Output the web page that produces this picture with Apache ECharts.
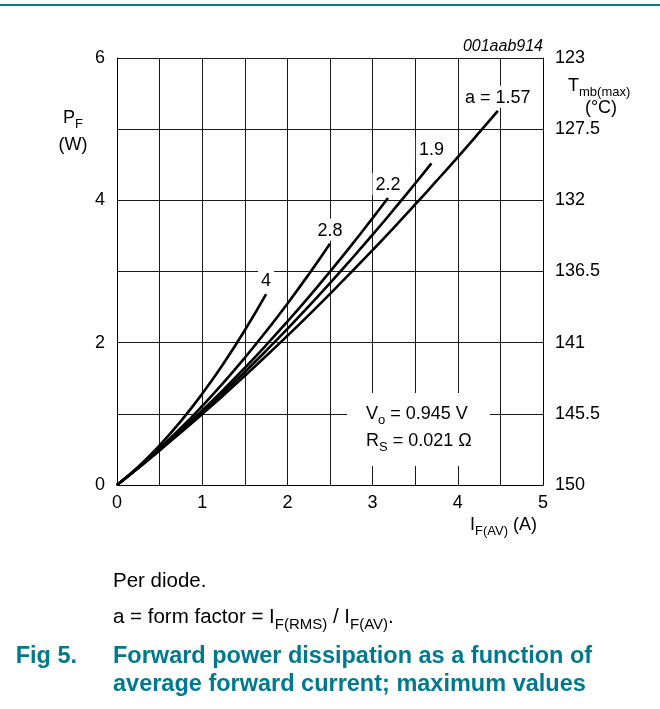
<!DOCTYPE html>
<html>
<head>
<meta charset="utf-8">
<script src="https://cdn.jsdelivr.net/npm/echarts@6/dist/echarts.min.js"></script>
<style>
html,body{margin:0;padding:0;background:#fff;}
#c{width:660px;height:709px;}
</style>
</head>
<body>
<div id="c"></div>
<script>
// ---- data ----
const curveNames = ['4', '2.8', '2.2', '1.9', 'a = 1.57'];
const curveA4 = [[0,0],[0.25,0.257],[0.5,0.557],[0.75,0.898],[1.0,1.281],[1.25,1.706],[1.5,2.174],[1.75,2.683]];
const curveA28 = [[0,0],[0.25,0.247],[0.5,0.514],[0.75,0.801],[1.0,1.110],[1.25,1.438],[1.5,1.788],[1.75,2.158],[2.0,2.548],[2.25,2.959],[2.5,3.391]];
const curveA22 = [[0,0],[0.25,0.243],[0.5,0.498],[0.75,0.766],[1.0,1.047],[1.25,1.340],[1.5,1.646],[1.75,1.965],[2.0,2.297],[2.25,2.641],[2.5,2.998],[2.75,3.367],[3.0,3.750],[3.18,4.033]];
const curveA19 = [[0,0],[0.25,0.241],[0.5,0.491],[0.75,0.751],[1.0,1.021],[1.25,1.300],[1.5,1.588],[1.75,1.886],[2.0,2.193],[2.25,2.510],[2.5,2.836],[2.75,3.172],[3.0,3.517],[3.25,3.872],[3.5,4.236],[3.69,4.519]];
const curveA157 = [[0,0],[0.25,0.239],[0.5,0.485],[0.75,0.738],[1.0,0.997],[1.25,1.262],[1.5,1.534],[1.75,1.812],[2.0,2.097],[2.25,2.388],[2.5,2.686],[2.75,2.990],[3.0,3.301],[3.25,3.618],[3.5,3.942],[3.75,4.272],[4.0,4.608],[4.25,4.951],[4.47,5.258]];
const curves = [curveA4, curveA28, curveA22, curveA19, curveA157];
const leftTicks = ['0','2','4','6'];
const rightTicks = ['150','145.5','141','136.5','132','127.5','123'];
const xMin = 0, xMax = 5, yMin = 0, yMax = 6;

const FONT = '"Liberation Sans", Arial, Helvetica, sans-serif';
const TEAL = '#00798d';
const GRIDC = '#1a1a1a';

const chart = echarts.init(document.getElementById('c'), null, {renderer: 'canvas'});

const series = curves.map((pts, si) => ({
  type: 'line',
  name: curveNames[si],
  data: pts.map((p, i) => i === pts.length - 1
    ? {value: p, label: {show: true, formatter: curveNames[si]}}
    : p),
  smooth: true,
  showSymbol: true,
  symbol: 'circle',
  symbolSize: 0,
  lineStyle: {color: '#000', width: 2.6},
  itemStyle: {color: '#000'},
  label: {
    show: false, position: 'top', distance: 3,
    fontSize: 18, fontFamily: FONT, color: '#000',
    backgroundColor: '#fff', padding: [3, 3, 1, 3]
  },
  emphasis: {disabled: true},
  animation: false,
  z: 3
}));

const mainStyle = {fontSize: 18, fontFamily: FONT, color: '#000', lineHeight: 20, verticalAlign: 'top'};
const subStyle = {fontSize: 13, fontFamily: FONT, color: '#000', lineHeight: 14, verticalAlign: 'top', padding: [9, 0, 0, 0]};
const capMain = {fontSize: 20.5, fontFamily: FONT, color: '#000', lineHeight: 22, verticalAlign: 'top'};
const capSub = {fontSize: 15, fontFamily: FONT, color: '#000', lineHeight: 16, verticalAlign: 'top', padding: [10, 0, 0, 0]};
const BOLD = 'bold 23.5px ' + FONT;

function rtext(x, y, text, align, rich, extra) {
  return Object.assign({
    type: 'text', x: x, y: y, z: 100,
    style: {text: text, align: align || 'left', verticalAlign: 'middle', rich: rich || {m: mainStyle, s: subStyle}, fill: '#000'}
  }, extra || {});
}

const option = {
  backgroundColor: '#fff',
  animation: false,
  grid: {left: 117, top: 58, width: 426, height: 427, containLabel: false},
  xAxis: {
    type: 'value', min: xMin, max: xMax, interval: 1,
    axisLine: {show: true, onZero: false, lineStyle: {color: '#000', width: 1}},
    axisTick: {show: false},
    minorTick: {show: false, splitNumber: 2},
    minorSplitLine: {show: true, lineStyle: {color: GRIDC, width: 1}},
    splitLine: {show: true, lineStyle: {color: GRIDC, width: 1}},
    axisLabel: {fontSize: 18, fontFamily: FONT, color: '#000', margin: 9}
  },
  yAxis: [{
    type: 'value', min: yMin, max: yMax, interval: 1,
    axisLine: {show: true, onZero: false, lineStyle: {color: '#000', width: 1}},
    axisTick: {show: false},
    splitLine: {show: true, lineStyle: {color: GRIDC, width: 1}},
    axisLabel: {
      fontSize: 18, fontFamily: FONT, color: '#000', margin: 12,
      formatter: v => (leftTicks.indexOf(String(v)) >= 0 ? String(v) : '')
    }
  }, {
    type: 'value', position: 'right', min: yMin, max: yMax, interval: 1,
    axisLine: {show: true, onZero: false, lineStyle: {color: '#000', width: 1}},
    axisTick: {show: false},
    splitLine: {show: false},
    axisLabel: {
      fontSize: 18, fontFamily: FONT, color: '#000', margin: 12,
      formatter: v => rightTicks[Math.round(v)]
    }
  }],
  series: series,
  graphic: [
    {type: 'rect', shape: {x: 0, y: 4, width: 660, height: 2}, style: {fill: TEAL}, z: 100},
    {type: 'text', x: 543, y: 47, z: 100, style: {text: '001aab914', align: 'right', verticalAlign: 'middle', font: 'italic 16px ' + FONT, fill: '#000'}},
    rtext(73, 119, '{m|P}{s|F}', 'center'),
    rtext(73, 146, '{m|(W)}', 'center'),
    rtext(568, 87, '{m|T}{s|mb(max)}', 'left'),
    rtext(601, 109, '{m|(°C)}', 'center'),
    rtext(537, 526, '{m|I}{s|F(AV)}{m| (A)}', 'right'),
    {type: 'rect', shape: {x: 347, y: 393, width: 143, height: 73}, style: {fill: '#fff'}, z: 99},
    rtext(366, 415, '{m|V}{s|o}{m| = 0.945 V}', 'left'),
    rtext(366, 442, '{m|R}{s|S}{m| = 0.021 Ω}', 'left'),
    rtext(113, 582, '{m|Per diode.}', 'left', {m: capMain}),
    rtext(113, 618, '{m|a = form factor = I}{s|F(RMS)}{m| / I}{s|F(AV)}{m|.}', 'left', {m: capMain, s: capSub}),
    {type: 'text', x: 77, y: 657, z: 100, style: {text: 'Fig 5.', align: 'right', verticalAlign: 'middle', font: BOLD, fill: TEAL}},
    {type: 'text', x: 113, y: 657, z: 100, style: {text: 'Forward power dissipation as a function of', align: 'left', verticalAlign: 'middle', font: BOLD, fill: TEAL}},
    {type: 'text', x: 113, y: 685, z: 100, style: {text: 'average forward current; maximum values', align: 'left', verticalAlign: 'middle', font: BOLD, fill: TEAL}}
  ]
};
chart.setOption(option);
</script>
</body>
</html>
